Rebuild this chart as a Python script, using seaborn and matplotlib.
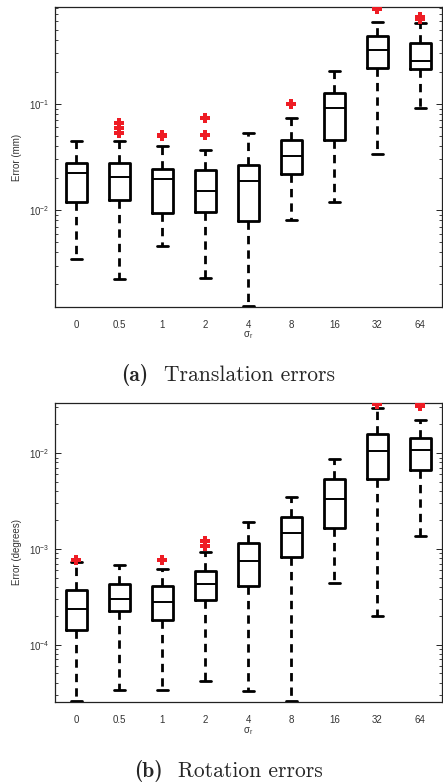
import numpy as np
import pandas as pd
import seaborn as sns
import matplotlib
matplotlib.use("Agg")
import matplotlib.pyplot as plt
from matplotlib.ticker import NullFormatter

# noise levels on the x axis
sigma_levels = ['0', '0.5', '1', '2', '4', '8', '16', '32', '64']

# (a) translation errors (mm): whisker ends, quartiles, median
trans_low = [0.00345, 0.00225, 0.0046, 0.0023, 0.00124, 0.00805, 0.0120, 0.0335, 0.091]
trans_q1 = [0.0118, 0.0124, 0.0093, 0.0095, 0.00787, 0.0219, 0.0457, 0.220, 0.214]
trans_med = [0.0225, 0.0206, 0.0195, 0.0152, 0.0188, 0.0326, 0.091, 0.323, 0.256]
trans_q3 = [0.0275, 0.0275, 0.0244, 0.0237, 0.0266, 0.0457, 0.128, 0.438, 0.374]
trans_high = [0.0448, 0.0448, 0.0402, 0.0368, 0.0528, 0.0733, 0.2047, 0.590, 0.577]
trans_out_level = ['0.5', '0.5', '0.5', '1', '1', '2', '2', '8', '32', '64', '64']
trans_out_value = [0.0658, 0.059, 0.053, 0.051, 0.0498, 0.0743, 0.051, 0.0993, 0.78, 0.63, 0.655]

# (b) rotation errors (degrees)
rot_low = [2.55e-5, 3.34e-5, 3.4e-5, 4.15e-5, 3.27e-5, 2.55e-5, 4.41e-4, 2.01e-4, 1.38e-3]
rot_q1 = [1.41e-4, 2.23e-4, 1.83e-4, 2.91e-4, 4.14e-4, 8.18e-4, 1.64e-3, 5.42e-3, 6.62e-3]
rot_med = [2.38e-4, 3.0e-4, 2.80e-4, 4.35e-4, 7.43e-4, 1.46e-3, 3.32e-3, 1.066e-2, 1.07e-2]
rot_q3 = [3.76e-4, 4.31e-4, 4.14e-4, 5.93e-4, 1.14e-3, 2.16e-3, 5.37e-3, 1.59e-2, 1.44e-2]
rot_high = [7.25e-4, 6.8e-4, 6.18e-4, 9.3e-4, 1.90e-3, 3.52e-3, 8.7e-3, 2.97e-2, 2.2e-2]
rot_out_level = ['0', '1', '2', '2', '32', '64', '64']
rot_out_value = [7.68e-4, 7.73e-4, 1.22e-3, 1.08e-3, 3.27e-2, 3.27e-2, 3.1e-2]

sns.set_style('ticks')
plt.rcParams['font.family'] = ['Liberation Sans', 'DejaVu Sans']


def five_number_frame(low, q1, med, q3, high):
    # one row per summary value, so the box statistics come out exactly
    rows = []
    for i, lev in enumerate(sigma_levels):
        for v in (low[i], q1[i], med[i], q3[i], high[i]):
            rows.append({'sigma': lev, 'error': v})
    return pd.DataFrame(rows)


def draw_panel(ax, box_df, out_df, ylabel, ylim):
    sns.boxplot(data=box_df, x='sigma', y='error', order=sigma_levels, ax=ax,
                log_scale=True, whis=(0, 100), width=0.5, fill=False,
                color='black', linecolor='black', linewidth=2.0,
                showfliers=False,
                medianprops={'linewidth': 1.4},
                whiskerprops={'linestyle': (0, (3.0, 2.2))})
    sns.stripplot(data=out_df, x='sigma', y='error', order=sigma_levels, ax=ax,
                  jitter=False, marker='P', color='#ee1c24', size=6.5,
                  linewidth=0, log_scale=True, zorder=5)
    ax.set_ylim(*ylim)
    ax.set_xlim(-0.5, 8.5)
    for side in ['top', 'right', 'left', 'bottom']:
        ax.spines[side].set_visible(True)
        ax.spines[side].set_linewidth(0.9)
        ax.spines[side].set_color('#222222')
    ax.tick_params(axis='y', which='both', direction='in', left=True, right=True,
                   colors='#222222', labelcolor='#333333', labelsize=7, pad=4)
    ax.tick_params(axis='y', which='major', length=4, width=0.7)
    ax.tick_params(axis='y', which='minor', length=2.5, width=0.6)
    ax.tick_params(axis='x', length=0, labelsize=7, labelcolor='#333333', pad=9)
    ax.yaxis.set_minor_formatter(NullFormatter())
    ax.set_ylabel(ylabel, fontsize=7, color='#333333', labelpad=5)
    ax.set_xlabel(r'$\mathregular{\sigma_r}$', fontsize=7, color='#333333', labelpad=0)


def caption(fig, tag, words, xc, yc, size=15.5):
    # bold tag + roman words, centred as a pair
    t1 = fig.text(0, yc, tag, fontfamily='cmb10', fontsize=size, va='center')
    t2 = fig.text(0, yc, words, fontfamily='cmr10', fontsize=size, va='center')
    fig.canvas.draw()
    r = fig.canvas.get_renderer()
    w1 = t1.get_window_extent(r).width
    w2 = t2.get_window_extent(r).width
    gap = 0.7 * size * fig.dpi / 72
    W = fig.bbox.width
    x0 = xc * W - (w1 + gap + w2) / 2
    t1.set_x(x0 / W)
    t2.set_x((x0 + w1 + gap) / W)


fig = plt.figure(figsize=(4.43, 7.84), dpi=100)
ax_t = fig.add_axes([0.124, 0.6084, 0.8736, 0.3827])
ax_r = fig.add_axes([0.124, 0.1042, 0.8736, 0.3822])

draw_panel(ax_t,
           five_number_frame(trans_low, trans_q1, trans_med, trans_q3, trans_high),
           pd.DataFrame({'sigma': trans_out_level, 'error': trans_out_value}),
           'Error (mm)', (0.00122, 0.82))
draw_panel(ax_r,
           five_number_frame(rot_low, rot_q1, rot_med, rot_q3, rot_high),
           pd.DataFrame({'sigma': rot_out_level, 'error': rot_out_value}),
           'Error (degrees)', (2.5e-5, 0.0337))

caption(fig, '(a)', 'Translation errors', 0.515, 1 - 375 / 784)
caption(fig, '(b)', 'Rotation errors', 0.515, 1 - 771 / 784)

fig.savefig('out.png', dpi=100)
